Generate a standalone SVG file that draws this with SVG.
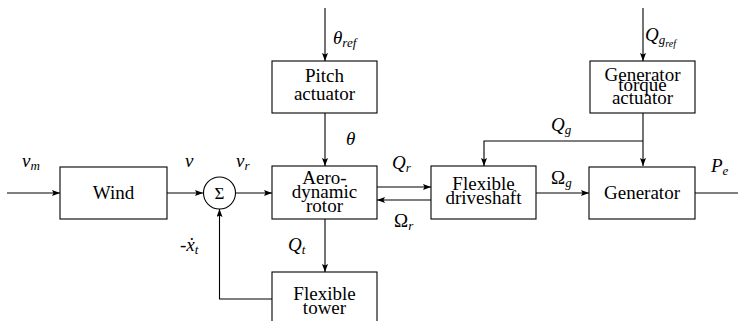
<svg xmlns="http://www.w3.org/2000/svg" width="738" height="321" viewBox="0 0 738 321">
<defs>
<marker id="arr" viewBox="0 0 8 6" refX="8" refY="3" markerWidth="8" markerHeight="6" markerUnits="userSpaceOnUse" orient="auto">
<path d="M0,0 L8,3 L0,6 L1.5,3 Z" fill="#000"/>
</marker>
</defs>
<style>
.box{fill:#fff;stroke:#000;stroke-width:1.1}
.ln{fill:none;stroke:#000;stroke-width:1.1}
</style>
<rect width="738" height="321" fill="#fff"/>
<g id="connectors">
<path class="ln" d="M7,193 H60" marker-end="url(#arr)"/>
<path class="ln" d="M167,193 H203" marker-end="url(#arr)"/>
<path class="ln" d="M236,193 H272" marker-end="url(#arr)"/>
<path class="ln" d="M325,8 V61" marker-end="url(#arr)"/>
<path class="ln" d="M325,113 V166" marker-end="url(#arr)"/>
<path class="ln" d="M377,187 H431" marker-end="url(#arr)"/>
<path class="ln" d="M431,200 H377" marker-end="url(#arr)"/>
<path class="ln" d="M536,193 H589" marker-end="url(#arr)"/>
<path class="ln" d="M643,8 V61" marker-end="url(#arr)"/>
<path class="ln" d="M643,113 V166" marker-end="url(#arr)"/>
<path class="ln" d="M643,141 H484 V166" marker-end="url(#arr)"/>
<path class="ln" d="M695,193 H738"/>
<path class="ln" d="M325,219 V272" marker-end="url(#arr)"/>
<path class="ln" d="M272,299 H219.5 V209" marker-end="url(#arr)"/>
</g>
<g id="wind">
<rect class="box" x="60" y="167" width="107" height="52"/>
<text x="113.5" y="199" font-family="Liberation Serif" font-size="19" text-anchor="middle">Wind</text>
</g>
<g id="sum">
<circle class="box" cx="219.5" cy="193" r="16"/>
<text x="219.5" y="199" font-family="Liberation Serif" font-size="17" text-anchor="middle">Σ</text>
</g>
<g id="pitch">
<rect class="box" x="272" y="61" width="105" height="52"/>
<text x="324.5" y="82" font-family="Liberation Serif" font-size="19" text-anchor="middle">Pitch</text>
<text x="324.5" y="100" font-family="Liberation Serif" font-size="19" text-anchor="middle">actuator</text>
</g>
<g id="rotor">
<rect class="box" x="272" y="166" width="105" height="53"/>
<text x="324.5" y="184" font-family="Liberation Serif" font-size="19" text-anchor="middle">Aero-</text>
<text x="324.5" y="198" font-family="Liberation Serif" font-size="19" text-anchor="middle">dynamic</text>
<text x="324.5" y="212" font-family="Liberation Serif" font-size="19" text-anchor="middle">rotor</text>
</g>
<g id="tower">
<rect class="box" x="272" y="272" width="105" height="53"/>
<text x="324.5" y="300" font-family="Liberation Serif" font-size="19" text-anchor="middle">Flexible</text>
<text x="324.5" y="314" font-family="Liberation Serif" font-size="19" text-anchor="middle">tower</text>
</g>
<g id="driveshaft">
<rect class="box" x="431" y="166" width="105" height="53"/>
<text x="483.5" y="190" font-family="Liberation Serif" font-size="19" text-anchor="middle">Flexible</text>
<text x="483.5" y="204" font-family="Liberation Serif" font-size="19" text-anchor="middle">driveshaft</text>
</g>
<g id="gtactuator">
<rect class="box" x="590" y="61" width="105" height="52"/>
<text x="642.5" y="81" font-family="Liberation Serif" font-size="19" text-anchor="middle">Generator</text>
<text x="642.5" y="91" font-family="Liberation Serif" font-size="19" text-anchor="middle">torque</text>
<text x="642.5" y="104" font-family="Liberation Serif" font-size="19" text-anchor="middle">actuator</text>
</g>
<g id="generator">
<rect class="box" x="589" y="167" width="106" height="52"/>
<text x="642" y="199" font-family="Liberation Serif" font-size="19" text-anchor="middle">Generator</text>
</g>
<g id="labels">
<text x="22" y="167" font-family="Liberation Serif" font-size="19" font-style="italic">v<tspan font-size="13" dy="3">m</tspan></text>
<text x="185" y="167" font-family="Liberation Serif" font-size="19" font-style="italic">v</text>
<text x="236" y="167" font-family="Liberation Serif" font-size="19" font-style="italic">v<tspan font-size="13" dy="3">r</tspan></text>
<text x="333" y="44" font-family="Liberation Serif" font-size="19" font-style="italic">θ<tspan font-size="13" dy="3">ref</tspan></text>
<text x="346" y="145" font-family="Liberation Serif" font-size="19" font-style="italic">θ</text>
<text x="392" y="169" font-family="Liberation Serif" font-size="19" font-style="italic">Q<tspan font-size="13" dy="3">r</tspan></text>
<text x="394" y="227" font-family="Liberation Serif" font-size="19" font-style="italic"><tspan font-style="normal">Ω</tspan><tspan font-size="13" dy="3">r</tspan></text>
<text x="551" y="131" font-family="Liberation Serif" font-size="19" font-style="italic">Q<tspan font-size="13" dy="3">g</tspan></text>
<text x="645" y="41" font-family="Liberation Serif" font-size="19" font-style="italic">Q<tspan font-size="13" dy="3">g</tspan><tspan font-size="10" dy="3">ref</tspan></text>
<text x="551" y="184" font-family="Liberation Serif" font-size="19" font-style="italic"><tspan font-style="normal">Ω</tspan><tspan font-size="13" dy="3">g</tspan></text>
<text x="711" y="172" font-family="Liberation Serif" font-size="19" font-style="italic">P<tspan font-size="13" dy="3">e</tspan></text>
<text x="180" y="251" font-family="Liberation Serif" font-size="19" font-style="italic"><tspan font-style="normal">-</tspan>ẋ<tspan font-size="13" dy="3">t</tspan></text>
<text x="288" y="251" font-family="Liberation Serif" font-size="19" font-style="italic">Q<tspan font-size="13" dy="3">t</tspan></text>
</g>
</svg>
